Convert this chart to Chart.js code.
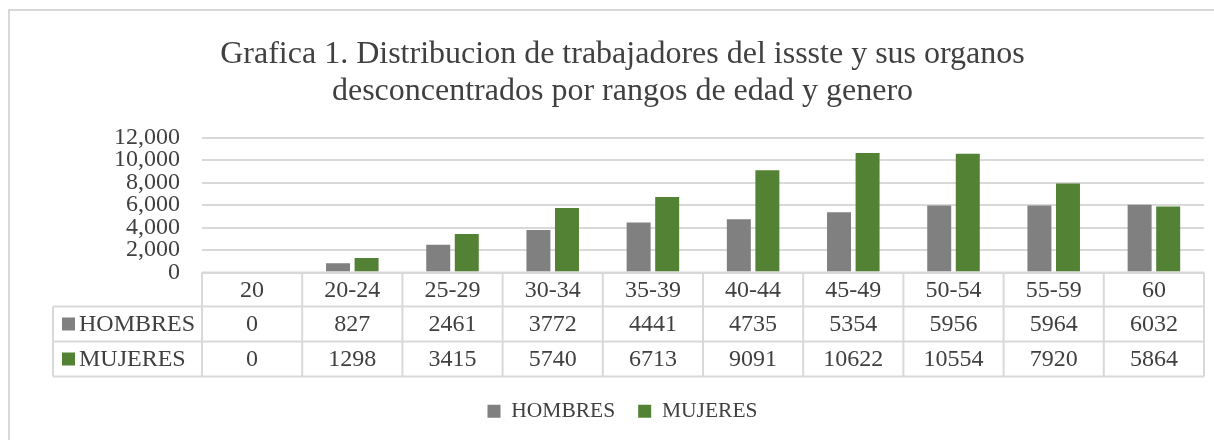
<!DOCTYPE html>
<html>
<head>
<meta charset="utf-8">
<script src="https://cdn.jsdelivr.net/npm/chart.js@4.4.1/dist/chart.umd.min.js"></script>
<style>
  html, body { margin: 0; padding: 0; background: #fff; overflow: hidden; }
  #wrap { position: relative; width: 1214px; height: 440px; }
  #frame { position: absolute; left: 8px; top: 9px; width: 1300px; height: 600px; border: 2px solid #d9d9d9; box-sizing: border-box; pointer-events: none; }
  canvas { position: absolute; left: 0; top: 0; }
</style>
</head>
<body>
<div id="wrap">
  <div id="frame"></div>
  <canvas id="c" width="1214" height="440"></canvas>
</div>
<script>
const categories = ['20', '20-24', '25-29', '30-34', '35-39', '40-44', '45-49', '50-54', '55-59', '60'];
const hombres = [0, 827, 2461, 3772, 4441, 4735, 5354, 5956, 5964, 6032];
const mujeres = [0, 1298, 3415, 5740, 6713, 9091, 10622, 10554, 7920, 5864];
const yTicks = [0, 2000, 4000, 6000, 8000, 10000, 12000];
const titleLines = ['Grafica 1. Distribucion de trabajadores del issste y sus organos', 'desconcentrados por rangos de edad y genero'];

const FONT = "'Liberation Serif', 'Times New Roman', serif";
const TXT = '#404040';
const GRID = '#d9d9d9';
const GREY = '#808080';
const GREEN = '#548235';
const PAD_LEFT = 41;

const tablePlugin = {
  id: 'dataTable',
  afterDraw(chart) {
    const ctx = chart.ctx;
    const ca = chart.chartArea;
    const xs = chart.scales.x;
    const n = categories.length;
    const colW = (ca.right - ca.left) / n;
    const top = ca.bottom;
    const rowH = [34, 35, 35];
    const y1 = top + rowH[0], y2 = y1 + rowH[1], y3 = y2 + rowH[2];
    const labelLeft = 53;
    ctx.save();
    ctx.strokeStyle = GRID;
    ctx.lineWidth = 2;
    ctx.beginPath();
    ctx.moveTo(ca.left, top); ctx.lineTo(ca.right, top);
    ctx.moveTo(labelLeft, y1); ctx.lineTo(ca.right, y1);
    ctx.moveTo(labelLeft, y2); ctx.lineTo(ca.right, y2);
    ctx.moveTo(labelLeft, y3); ctx.lineTo(ca.right, y3);
    for (let i = 0; i <= n; i++) {
      const x = ca.left + i * colW;
      ctx.moveTo(x, top); ctx.lineTo(x, y3);
    }
    ctx.moveTo(labelLeft, y1); ctx.lineTo(labelLeft, y3);
    ctx.stroke();

    ctx.fillStyle = TXT;
    ctx.font = '24px ' + FONT;
    ctx.textAlign = 'center';
    ctx.textBaseline = 'middle';
    for (let i = 0; i < n; i++) {
      const cx = xs.getPixelForValue(i);
      ctx.fillText(categories[i], cx, (top + y1) / 2 + 1);
      ctx.fillText(String(hombres[i]), cx, (y1 + y2) / 2 + 1);
      ctx.fillText(String(mujeres[i]), cx, (y2 + y3) / 2 + 1);
    }
    const rows = [
      { label: chart.data.datasets[0].label, color: GREY, y: (y1 + y2) / 2 },
      { label: chart.data.datasets[1].label, color: GREEN, y: (y2 + y3) / 2 }
    ];
    ctx.textAlign = 'left';
    rows.forEach(r => {
      ctx.fillStyle = r.color;
      ctx.fillRect(62, r.y - 6.5, 13, 13);
      ctx.fillStyle = TXT;
      ctx.fillText(r.label, 79, r.y + 1);
    });
    ctx.restore();
  }
};

new Chart(document.getElementById('c'), {
  type: 'bar',
  data: {
    labels: categories,
    datasets: [
      { label: 'HOMBRES', data: hombres, backgroundColor: GREY, categoryPercentage: 0.57, barPercentage: 0.84 },
      { label: 'MUJERES', data: mujeres, backgroundColor: GREEN, categoryPercentage: 0.57, barPercentage: 0.84 }
    ]
  },
  plugins: [tablePlugin],
  options: {
    responsive: false,
    animation: false,
    layout: { padding: { left: PAD_LEFT, right: 10, top: 0, bottom: 8 } },
    plugins: {
      title: {
        display: true,
        text: titleLines,
        color: TXT,
        font: { family: FONT, size: 32, weight: 'normal', lineHeight: 1.15 },
        padding: { top: 36, bottom: 28 }
      },
      legend: {
        position: 'bottom',
        labels: {
          color: TXT,
          font: { family: FONT, size: 21.5 },
          boxWidth: 13,
          boxHeight: 13,
          padding: 23
        }
      },
      tooltip: { enabled: false }
    },
    scales: {
      x: {
        ticks: { display: false },
        grid: { display: false },
        border: { display: false },
        afterFit(scale) { scale.height = 105; }
      },
      y: {
        min: 0,
        max: 12000,
        afterBuildTicks(scale) { scale.ticks = yTicks.map(v => ({ value: v })); },
        ticks: {
          autoSkip: false,
          padding: 22,
          color: TXT,
          font: { family: FONT, size: 24, lineHeight: 1 },
          callback: v => v.toLocaleString('en-US')
        },
        grid: { color: GRID, lineWidth: 2, drawTicks: false },
        border: { display: false },
        afterFit(scale) { scale.width = 202 - PAD_LEFT; }
      }
    }
  }
});
</script>
</body>
</html>
